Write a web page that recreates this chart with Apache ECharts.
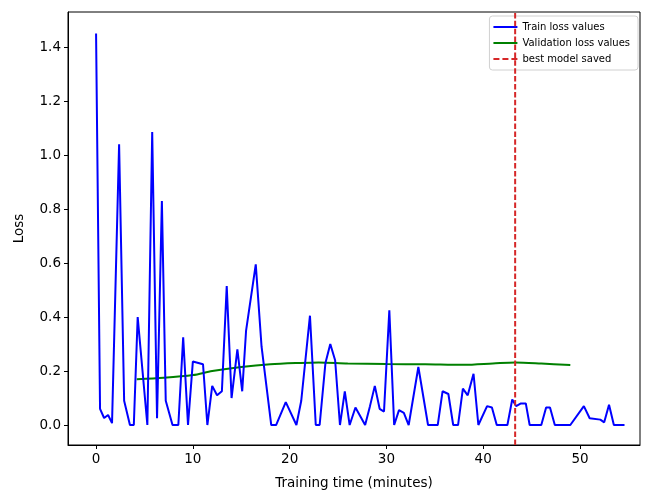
<!DOCTYPE html>
<html>
<head>
<meta charset="utf-8">
<script src="https://cdn.jsdelivr.net/npm/echarts@6/dist/echarts.min.js"></script>
<style>
  html, body { margin: 0; padding: 0; background: #fff; }
  #chart { width: 646px; height: 495px; }
</style>
</head>
<body>
<div id="chart"></div>
<script>
// train loss, one point every ~0.5 min
const trainTime = [
  0, 0.41, 0.83, 1.24, 1.65, 2.38, 2.9, 3.5, 3.9, 4.3,
  5.3, 5.8, 6.3, 6.8, 7.2, 7.9, 8.5, 9.0, 9.5, 10.0,
  11.05, 11.5, 12.0, 12.5, 13.0, 13.5, 14.0, 14.6, 15.1, 15.5,
  16.5, 17.1, 18.1, 18.6, 19.6, 20.7, 21.2, 22.1, 22.7, 23.1,
  23.7, 24.2, 24.7, 25.2, 25.7, 26.2, 26.8, 27.8, 28.3, 28.8,
  29.3, 29.75, 30.3, 30.8, 31.3, 31.8, 32.3, 33.3, 34.3, 35.3,
  35.8, 36.4, 36.9, 37.4, 37.9, 38.4, 39.0, 39.5, 40.4, 40.9,
  41.4, 42.5, 43.0, 43.4, 43.9, 44.4, 44.8, 46.0, 46.5, 46.9,
  47.4, 49.0, 50.4, 51.0, 52.1, 52.5, 53.0, 53.5, 54.6
]
const trainLoss = [
  1.45, 0.06, 0.026, 0.037, 0.007, 1.04, 0.09, 0.0, 0.0, 0.40,
  0.0, 1.085, 0.025, 0.83, 0.09, 0.0, 0.0, 0.325, 0.0, 0.235,
  0.225, 0.0, 0.145, 0.11, 0.125, 0.515, 0.10, 0.28, 0.125, 0.35,
  0.595, 0.29, 0.0, 0.0, 0.085, 0.0, 0.09, 0.405, 0.0, 0.0,
  0.23, 0.30, 0.24, 0.0, 0.125, 0.0, 0.065, 0.0, 0.07, 0.145,
  0.06, 0.05, 0.425, 0.0, 0.055, 0.045, 0.0, 0.215, 0.0, 0.0,
  0.125, 0.115, 0.0, 0.0, 0.135, 0.11, 0.19, 0.0, 0.07, 0.065,
  0.0, 0.0, 0.095, 0.07, 0.08, 0.08, 0.0, 0.0, 0.065, 0.065,
  0.0, 0.0, 0.07, 0.025, 0.02, 0.01, 0.075, 0.0, 0.0
]

const valTime = [4.2, 7, 10, 12, 15, 18, 21, 23, 26, 30, 34, 38, 41, 43.3, 46, 49]
const valLoss = [0.17, 0.175, 0.185, 0.2, 0.215, 0.225, 0.23, 0.232, 0.228, 0.226, 0.225, 0.223, 0.228, 0.232, 0.228, 0.222]

const bestTime = 43.3

const xTicks = [0, 10, 20, 30, 40, 50]
const yTicks = [0, 0.2, 0.4, 0.6, 0.8, 1.0, 1.2, 1.4]
const xMin = -2.9, xMax = 56.2
const yMin = -0.074, yMax = 1.53

const font = 'DejaVu Sans'
const solidIcon = 'path://M0,0h24v2h-24z'
const dashIcon = 'path://M0,0h6v2h-6z M9,0h6v2h-6z M18,0h6v2h-6z'

const chart = echarts.init(document.getElementById('chart'))

chart.setOption({
  animation: false,
  textStyle: { fontFamily: font, color: '#000' },
  grid: {
    left: 68, right: 6, top: 12, bottom: 50,
    show: true, borderColor: '#000', borderWidth: 1
  },
  legend: {
    orient: 'vertical',
    right: 8,
    top: 16,
    itemWidth: 24,
    itemHeight: 2,
    itemGap: 6,
    padding: [6, 8, 6, 4],
    backgroundColor: 'rgba(255,255,255,0.85)',
    borderColor: '#d0d0d0',
    borderWidth: 1,
    borderRadius: 3,
    textStyle: { fontSize: 10, fontFamily: font, color: '#000' },
    data: [
      { name: 'Train loss values', icon: solidIcon },
      { name: 'Validation loss values', icon: solidIcon },
      { name: 'best model saved', icon: dashIcon }
    ]
  },
  xAxis: {
    type: 'value',
    min: xMin, max: xMax,
    name: 'Training time (minutes)',
    nameLocation: 'middle',
    nameGap: 31,
    nameTextStyle: { fontSize: 13.5, color: '#000' },
    axisLine: { onZero: false, lineStyle: { color: '#000', width: 1 } },
    axisTick: { show: true, length: 4, lineStyle: { color: '#000' }, customValues: xTicks },
    axisLabel: { fontSize: 13.5, color: '#000', margin: 7, customValues: xTicks },
    splitLine: { show: false }
  },
  yAxis: {
    type: 'value',
    min: yMin, max: yMax,
    name: 'Loss',
    nameLocation: 'middle',
    nameGap: 42,
    nameTextStyle: { fontSize: 13.5, color: '#000' },
    axisLine: { show: true, onZero: false, lineStyle: { color: '#000', width: 1 } },
    axisTick: { show: true, length: 4, lineStyle: { color: '#000' }, customValues: yTicks },
    axisLabel: {
      fontSize: 13.5, color: '#000', margin: 7, customValues: yTicks,
      formatter: v => v.toFixed(1)
    },
    splitLine: { show: false }
  },
  series: [
    {
      name: 'Train loss values',
      type: 'line',
      symbol: 'none',
      data: trainTime.map((t, i) => [t, trainLoss[i]]),
      lineStyle: { color: '#0000ff', width: 2 },
      itemStyle: { color: '#0000ff' },
      z: 3
    },
    {
      name: 'Validation loss values',
      type: 'line',
      symbol: 'none',
      smooth: 0.3,
      data: valTime.map((t, i) => [t, valLoss[i]]),
      lineStyle: { color: '#008000', width: 2 },
      itemStyle: { color: '#008000' },
      z: 2
    },
    {
      name: 'best model saved',
      type: 'line',
      symbol: 'none',
      data: [[bestTime, yMin], [bestTime, yMax]],
      lineStyle: { color: '#d62728', width: 2, type: [5.5, 2.4] },
      itemStyle: { color: '#d62728' },
      z: 4
    }
  ]
})
</script>
</body>
</html>
